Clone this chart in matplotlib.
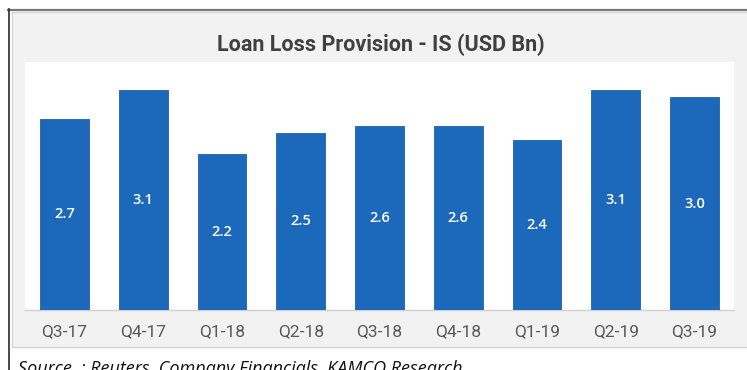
import matplotlib
matplotlib.use("Agg")
import matplotlib.pyplot as plt
from matplotlib.patches import Rectangle
from matplotlib.lines import Line2D

# Quarterly loan loss provisions, USD billions
quarters = ["Q3-17", "Q4-17", "Q1-18", "Q2-18", "Q3-18", "Q4-18", "Q1-19", "Q2-19", "Q3-19"]
provisions = [2.7, 3.1, 2.2, 2.5, 2.6, 2.6, 2.4, 3.1, 3.0]

title_text = "Loan Loss Provision - IS (USD Bn)"
source_text = "Source  : Reuters, Company Financials, KAMCO Research"

W, H = 747, 370
fig = plt.figure(figsize=(W / 100, H / 100), dpi=100)
fig.patch.set_facecolor("white")

def fx(px):
    return px / W

def fy(py):
    return 1 - py / H

# outer frame lines (top and left)
fig.add_artist(Line2D([fx(8), 1], [fy(9.5), fy(9.5)], color="#7a7a7a", lw=1.6,
                      transform=fig.transFigure, zorder=-2))
fig.add_artist(Line2D([fx(8.5), fx(8.5)], [fy(9), 0], color="#2a2a2a", lw=1.2,
                      transform=fig.transFigure, zorder=-2))

# light gray chart panel
fig.add_artist(Rectangle((fx(11.5), fy(347)), 1 - fx(11.5) + 0.01, fy(12) - fy(347),
                         transform=fig.transFigure, facecolor="#f2f2f2",
                         edgecolor="#d4d4d4", lw=1.0, zorder=-1))

cond = ["Roboto", "DejaVu Sans"]

ax = fig.add_axes([fx(25), fy(310), fx(734) - fx(25), fy(62) - fy(310)])
ax.set_zorder(1)
ax.set_facecolor("white")

x = range(len(quarters))
bars = ax.bar(x, provisions, width=0.62, color="#1c69bb", edgecolor="#1a62b0",
              lw=0.6, zorder=3)

for rect, v in zip(bars, provisions):
    ax.text(rect.get_x() + rect.get_width() / 2, v / 2, f"{v:.1f}",
            ha="center", va="center", color="white", fontsize=10.5,
            family=["Open Sans", "DejaVu Sans"], fontweight="semibold", zorder=4)

ax.set_xlim(-0.5, len(quarters) - 0.5)
ax.set_ylim(0, 3.5)
ax.set_yticks([])
ax.set_xticks(list(x))
ax.set_xticklabels(quarters, family=cond, fontsize=12.5, color="#595959")
ax.tick_params(axis="x", length=0, pad=10)
for side in ("top", "right", "left"):
    ax.spines[side].set_visible(False)
ax.spines["bottom"].set_color("#d0d0d0")
ax.spines["bottom"].set_linewidth(1.0)

fig.text(fx(381), fy(45), title_text, ha="center", va="center",
         family=cond, fontweight="bold", fontsize=15.5, color="#404040")

fig.text(fx(18), fy(360), source_text, ha="left", va="top",
         family=["Open Sans", "DejaVu Sans"], style="italic", fontsize=13,
         color="#111111")

fig.savefig("out.png", dpi=100, facecolor=fig.get_facecolor())
